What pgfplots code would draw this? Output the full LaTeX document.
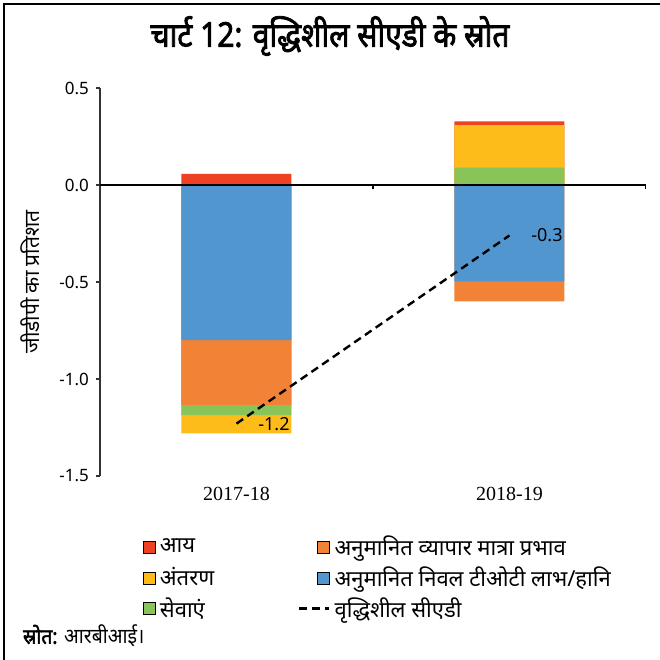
\documentclass[border=0pt]{standalone}
\usepackage{fontspec}
\usepackage{pgfplots}
\pgfplotsset{compat=1.18}
\newfontfamily\hindi[Script=Devanagari, BoldFont={Noto Sans}, BoldFeatures={FakeBold=2.5}]{Noto Sans}
\newfontfamily\numfont{Noto Sans}
\newfontfamily\yearfont{Liberation Serif}
\definecolor{cRed}{HTML}{EE4123}
\definecolor{cOrange}{HTML}{F28235}
\definecolor{cYellow}{HTML}{FDBC19}
\definecolor{cBlue}{HTML}{5296D0}
\definecolor{cGreen}{HTML}{88C457}
\pgfplotsset{
  sq/.style={legend image code/.code={\fill[##1] (9pt,-3pt) rectangle (15pt,3pt);}},
  ln/.style={legend image code/.code={\draw[##1] (0pt,0pt) -- (15pt,0pt);}},
}
\begin{document}
\begin{tikzpicture}
\path[use as bounding box] (0,0) rectangle (330pt,330pt);
\draw[line width=1pt] (2pt,0) -- (2pt,328pt) -- (330pt,328pt);
\node[font=\hindi\bfseries\fontsize{17}{20}\selectfont] at (165pt,312pt) {\scalebox{0.88}[1]{चार्ट 12: वृद्धिशील सीएडी के स्रोत}};
\node[anchor=west, font=\hindi\fontsize{10.5}{12}\selectfont] at (8pt,12pt) {\scalebox{0.92}[1]{{\bfseries स्रोत:} आरबीआई।}};
\begin{axis}[
  at={(50pt,92pt)}, anchor=south west,
  width=273pt, height=194pt, scale only axis,
  xmin=-0.5, xmax=1.5, ymin=-1.5, ymax=0.5,
  axis lines*=left,
  x axis line style={draw=none},
  y axis line style={black!80, line width=0.6pt},
  xtick={0,1}, xticklabels={2017-18,2018-19},
  x tick style={draw=none},
  x tick label style={font=\yearfont\fontsize{10}{12}\selectfont},
  ytick={-1.5,-1,-0.5,0,0.5},
  tick align=outside, major tick length=2pt,
  y tick style={black!80, line width=0.6pt},
  y tick label style={font=\numfont\fontsize{8.5}{10}\selectfont},
  /pgf/number format/.cd, fixed, fixed zerofill, precision=1, assume math mode=true,
  /pgfplots/.cd,
  ylabel={जीडीपी का प्रतिशत},
  every axis y label/.style={at={(axis description cs:-0.128,0.5)}, rotate=90, anchor=center, font=\hindi\fontsize{10.5}{12}\selectfont},
  legend columns=2,
  legend cell align=left,
  legend style={at={(axis description cs:0.079,-0.144)}, anchor=north west, draw=none,
    inner sep=0pt, outer sep=0pt, row sep=0pt,
    font=\hindi\fontsize{11}{13}\selectfont,
    /tikz/every even column/.append style={column sep=40pt}},
]
\addlegendimage{sq, fill=cRed}
\addlegendentry{आय}
\addlegendimage{sq, fill=cOrange}
\addlegendentry{अनुमानित व्यापार मात्रा प्रभाव}
\addlegendimage{sq, fill=cYellow}
\addlegendentry{अंतरण}
\addlegendimage{sq, fill=cBlue}
\addlegendentry{अनुमानित निवल टीओटी लाभ/हानि}
\addlegendimage{sq, fill=cGreen}
\addlegendentry{सेवाएं}
\addlegendimage{ln, black, line width=1.2pt, dash pattern=on 4pt off 2.5pt}
\addlegendentry{वृद्धिशील सीएडी}
% cumulative stack ends, outermost segment first
\addplot[ybar, bar width=55pt, fill=cRed, draw=none, forget plot] coordinates {(0,0.058) (1,0.328)};
\addplot[ybar, bar width=55pt, fill=cYellow, draw=none, forget plot] coordinates {(0,-1.280) (1,0.309)};
\addplot[ybar, bar width=55pt, fill=cGreen, draw=none, forget plot] coordinates {(0,-1.186) (1,0.089)};
\addplot[ybar, bar width=55pt, fill=cOrange, draw=none, forget plot] coordinates {(0,-1.133) (1,-0.600)};
\addplot[ybar, bar width=55pt, fill=cBlue, draw=none, forget plot] coordinates {(0,-0.800) (1,-0.497)};
\draw[black, line width=0.6pt] (axis cs:-0.5,0) -- (axis cs:1.5,0);
\draw[black, line width=0.6pt] (axis cs:0.5,0) -- ([yshift=-2pt]axis cs:0.5,0);
\draw[black, line width=0.6pt] (axis cs:1.5,0) -- ([yshift=-2pt]axis cs:1.5,0);
\addplot[black, line width=1.2pt, dash pattern=on 4pt off 2.5pt, forget plot,
  nodes near coords, point meta=explicit symbolic,
  nodes near coords style={anchor=west, xshift=7pt, font=\numfont\fontsize{9}{11}\selectfont}]
  table[meta=label] {
x y label
0 -1.23 -1.2
1 -0.26 -0.3
};
\end{axis}
\end{tikzpicture}
\end{document}
